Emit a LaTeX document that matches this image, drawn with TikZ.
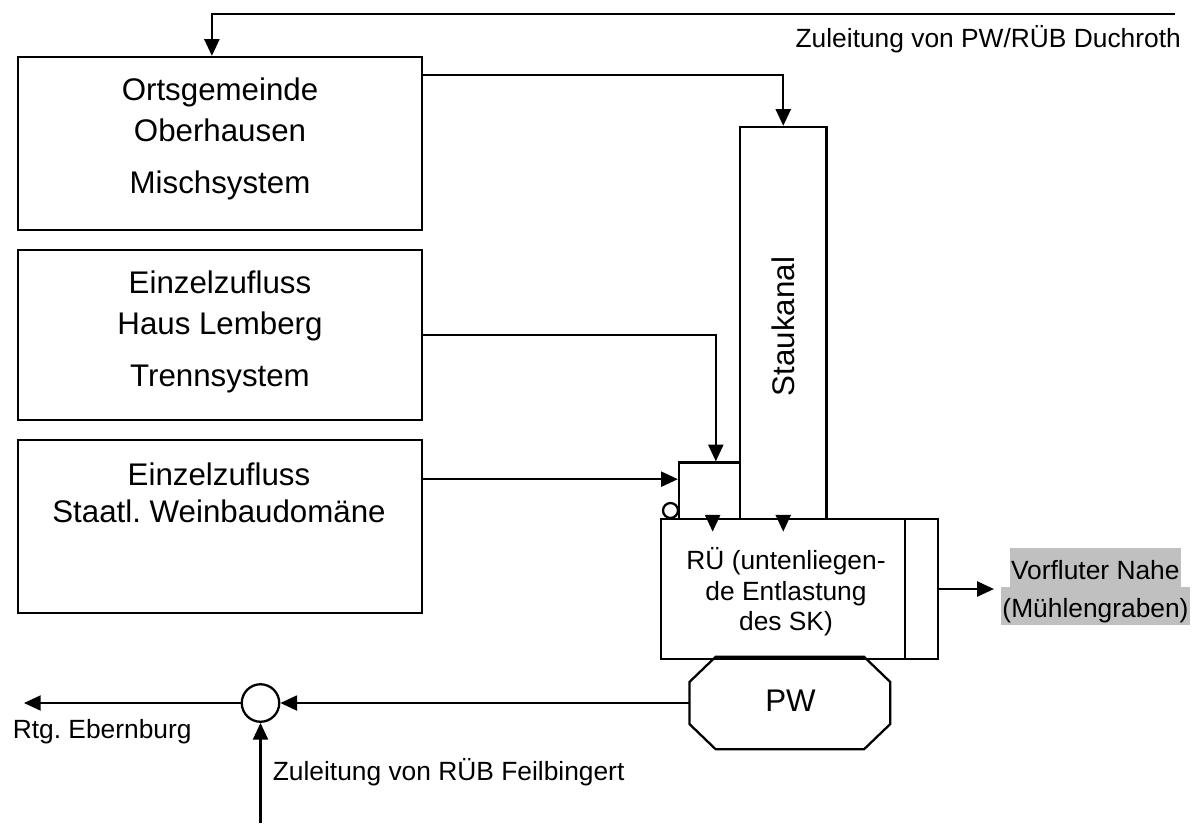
\documentclass[tikz,border=0pt]{standalone}
\usepackage{fontspec}
\setmainfont{Liberation Sans}
\definecolor{markgray}{HTML}{C0C0C0}
\usetikzlibrary{arrows.meta, positioning, fit, calc}

\begin{document}
\frenchspacing
\begin{tikzpicture}[x=0.02cm, y=-0.02cm, line width=1.3pt,
    blk/.style={draw, inner sep=0pt},
    arr/.style={-{Triangle[length=9.5pt, width=8.5pt]}},
    bigtxt/.style={font=\fontsize{17.8pt}{23.3pt}\selectfont, align=center, inner sep=0pt},
    smalltxt/.style={font=\fontsize{15pt}{17.3pt}\selectfont, inner sep=0pt},
    marked/.style={smalltxt, fill=markgray, inner xsep=0.8pt, text height=17.5pt, text depth=4.4pt}]
  \useasboundingbox (0,0) rectangle (1197,823);

  % Zufluesse
  \node[blk, fit={(18,57) (422,230)}] (og) {};
  \node[blk, fit={(18,250) (422,420)}] (tz) {};
  \node[blk, fit={(18,440) (422,613)}] (wd) {};
  \node[bigtxt, anchor=base] (ogtxt) at (220,193) {Ortsgemeinde\\Oberhausen\\[6.2pt]Mischsystem};
  \node[bigtxt, anchor=base] (tztxt) at (220,386) {Einzelzufluss\\Haus Lemberg\\[6.2pt]Trennsystem};
  \node[bigtxt, anchor=base] (wdtxt) at (219,522) {Einzelzufluss\\[-2.3pt]Staatl. Weinbaudomäne};

  % Staukanal, RUe und PW
  \node[blk, fit={(740,127) (826.5,519)}] (sk) {};
  \node[bigtxt, rotate=90] (sktxt) at (783,326.5) {Staukanal};
  \node[blk, fit={(679,462.5) (740,519)}] (sb) {};
  \node[blk, circle, minimum size=0.3cm] (ring) at (670.5,510.5) {};
  \node[blk, fit={(660.7,519) (905,659)}] (ru) {};
  \node[blk, fit={(905,519) (938,659)}] (ov) {};
  \node[smalltxt, align=center, anchor=base] (rutxt) at (786,630.7) {RÜ (untenliegen-\\de Entlastung\\des SK)};
  \node[inner sep=0pt, fit={(690.7,658) (889,748)}] (pw) {};
  \draw ($(pw.north west)+(26,0)$) -- ($(pw.north east)+(-26,0)$)
    -- ($(pw.north east)+(0,25)$) -- ($(pw.south east)+(0,-25)$)
    -- ($(pw.south east)+(-26,0)$) -- ($(pw.south west)+(26,0)$)
    -- ($(pw.south west)+(0,-25)$) -- ($(pw.north west)+(0,25)$) -- cycle;
  \node[bigtxt, anchor=base] (pwtxt) at (790.5,711.7) {PW};
  \node[blk, circle, minimum size=0.75cm] (jn) at (260.5,703) {};

  % Beschriftungen
  \node[smalltxt, anchor=base east] (duchtxt) at (1182,47) {Zuleitung von PW/RÜB Duchroth};
  \node[marked, anchor=base] (vf1) at (1095.3,579) {Vorfluter Nahe};
  \node[marked, anchor=base] (vf2) at (1095.5,617.5) {(Mühlengraben)};
  \node[smalltxt, anchor=base west] (ebtxt) at (11.7,738) {Rtg. Ebernburg};
  \node[smalltxt, anchor=base west] (feiltxt) at (271.7,780) {Zuleitung von RÜB Feilbingert};

  \coordinate (duch) at (1175,14);
  \coordinate (ebern) at (24,703);
  \coordinate (feil) at (260.5,823);
  \coordinate (wdout) at ($(wd.north east)!0.23!(wd.south east)$);

  % Leitungen
  \draw[arr] (duch) -| ($(og.north west)!0.48!(og.north east)$);
  \draw[arr] ($(og.north east)!0.11!(og.south east)$) -| (sk.north);
  \draw[arr] (tz.east) -| ($(sb.north west)!0.6!(sb.north east)$);
  \draw[arr] (wdout) -- (wdout -| sb.west);
  \draw[arr] ($(sb.south west)!0.55!(sb.south east)$) -- ++(0,11.5);
  \draw[arr] (sk.south) -- ++(0,11.5);
  \draw[arr] (ov.east) -- ($(ov.east -| vf2.west)+(-6,0)$);
  \draw[arr] (pw.west) -- (jn.east);
  \draw[arr] (jn.west) -- (ebern);
  \draw[arr] (feil) -- (jn.south);
\end{tikzpicture}
\end{document}
